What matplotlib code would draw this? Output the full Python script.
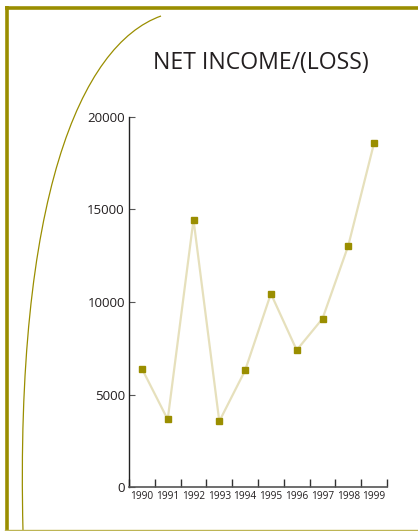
import matplotlib.pyplot as plt
from matplotlib.path import Path
from matplotlib.patches import PathPatch
from matplotlib.lines import Line2D

# data
years = ['1990', '1991', '1992', '1993', '1994', '1995', '1996', '1997', '1998', '1999']
net_income = [6400, 3650, 14450, 3550, 6300, 10450, 7400, 9100, 13050, 18600]
y_ticks = [0, 5000, 10000, 15000, 20000]

OLIVE = '#9a8e00'
LINE = '#e6e0bc'
TEXT = '#231f20'

W, H = 418, 531
fig = plt.figure(figsize=(W / 100, H / 100), dpi=100)

# decorative frame + arc, drawn in pixel coords (y down)
deco = fig.add_axes([0, 0, 1, 1])
deco.set_xlim(0, W)
deco.set_ylim(H, 0)
deco.axis('off')
deco.add_line(Line2D([6.5, 6.5], [6, H], color=OLIVE, lw=2.6, solid_capstyle='butt'))
deco.add_line(Line2D([5, W], [7.5, 7.5], color=OLIVE, lw=2.6, solid_capstyle='butt'))
deco.add_line(Line2D([5, W], [530, 530], color='#bdb555', lw=1.0))
arc = Path([(161, 16), (80, 45), (15, 200), (23, 531)],
           [Path.MOVETO, Path.CURVE4, Path.CURVE4, Path.CURVE4])
deco.add_patch(PathPatch(arc, fill=False, edgecolor=OLIVE, lw=0.9))

fig.text(261 / W, 1 - 63 / H, 'NET INCOME/(LOSS)', ha='center', va='center',
         fontsize=16.6, color=TEXT, family='Open Sans')

# chart
ax = fig.add_axes([129 / W, 44 / H, 258 / W, 370 / H])
x = list(range(len(years)))
ax.plot(x, net_income, color=LINE, lw=1.6, zorder=2)
ax.plot(x, net_income, linestyle='none', marker='s', markersize=5,
        color=OLIVE, markeredgecolor=OLIVE, zorder=3)

ax.set_xlim(-0.5, len(years) - 0.5)
ax.set_ylim(0, 20000)
ax.spines['top'].set_visible(False)
ax.spines['right'].set_visible(False)
ax.spines['left'].set_color('#222222')
ax.spines['bottom'].set_color('#555555')
ax.spines['left'].set_linewidth(1.0)
ax.spines['bottom'].set_linewidth(1.2)

ax.set_yticks(y_ticks)
ax.set_yticklabels([str(v) for v in y_ticks], family='Open Sans', fontsize=9.5, color=TEXT)
ax.tick_params(axis='y', direction='in', length=4, width=0.8, color='#555555', pad=3)

ax.set_xticks([i + 0.5 for i in range(-1, len(years))])
ax.set_xticklabels([])
ax.tick_params(axis='x', direction='in', length=6, width=1.0, color='#333333')
for i, yr in enumerate(years):
    ax.text(i, -0.012, yr, transform=ax.get_xaxis_transform(), ha='center', va='top',
            fontsize=7.3, color=TEXT, family='Open Sans')

fig.savefig('out.png', dpi=100)
